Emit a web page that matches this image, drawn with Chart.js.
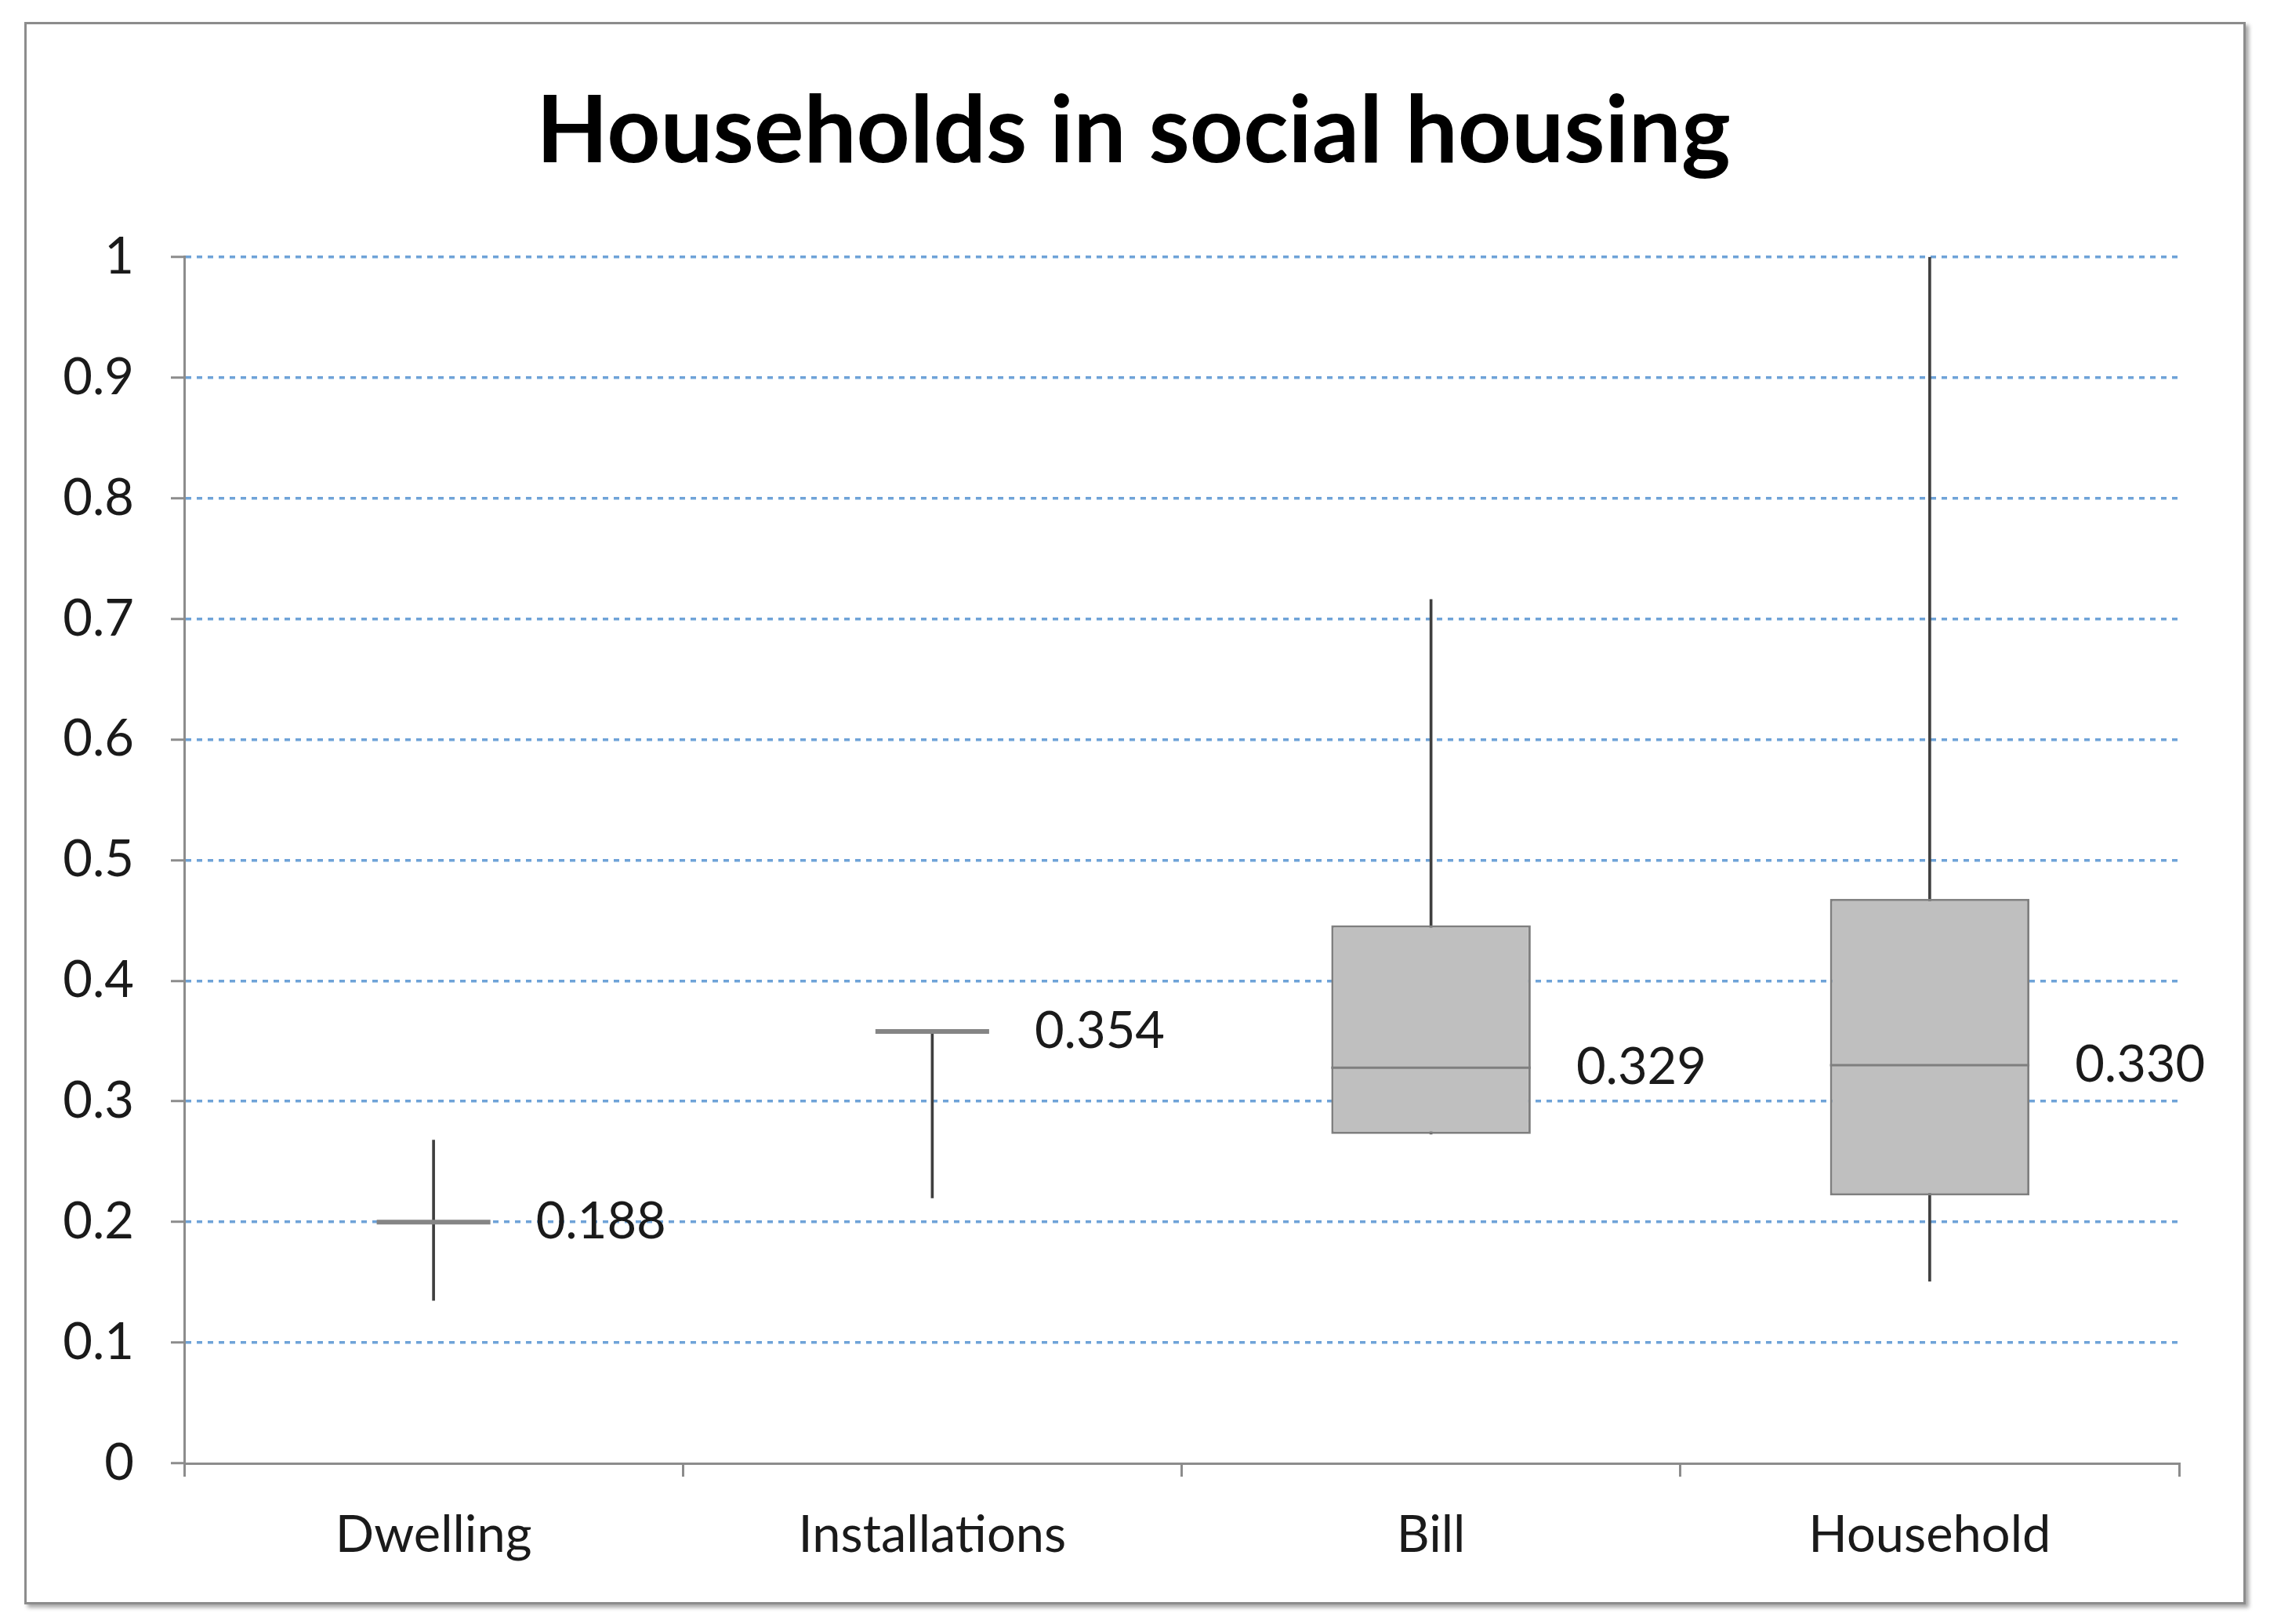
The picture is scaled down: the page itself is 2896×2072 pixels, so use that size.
<!DOCTYPE html>
<html>
<head>
<meta charset="utf-8">
<script src="https://cdn.jsdelivr.net/npm/chart.js@4.4.1/dist/chart.umd.min.js"></script>
<style>
  html, body { margin: 0; padding: 0; background: #fff; }
  #frame {
    position: absolute;
    left: 31px;
    top: 28px;
    width: 2828px;
    height: 2013px;
    border: 3px solid #8c8c8c;
    box-shadow: 4px 4px 5px rgba(0, 0, 0, 0.35);
    background: #fff;
  }
</style>
</head>
<body>
<div id="frame"><canvas id="chart"></canvas></div>
<script>
const categories = ["Dwelling", "Installations", "Bill", "Household"]

// box plot values
const whiskerLow = [0.135, 0.22, 0.273, 0.151]
const q1 = [0.2, 0.358, 0.273, 0.222]
const medians = [0.2, 0.358, 0.328, 0.33]
const q3 = [0.2, 0.358, 0.446, 0.468]
const whiskerHigh = [0.268, 0.358, 0.716, 1.0]
const valueLabels = ["0.188", "0.354", "0.329", "0.330"]

const yTickLabels = ["0", "0.1", "0.2", "0.3", "0.4", "0.5", "0.6", "0.7", "0.8", "0.9", "1"]

const FONT = "Lato"
const GRAY = "#8c8c8c"
const TEXT_SIZE = 65

// median lines + value labels
const medianPlugin = {
  id: "medians",
  afterDatasetsDraw(chart, args, opts) {
    const { ctx } = chart
    const x = chart.scales.x
    const y = chart.scales.y
    const catW = x.width / categories.length
    ctx.save()
    categories.forEach((c, i) => {
      const cx = x.getPixelForValue(i)
      const cy = y.getPixelForValue(medians[i])
      const half = (opts.widths[i] * catW) / 2
      ctx.strokeStyle = opts.colors[i]
      ctx.lineWidth = opts.lineWidths[i]
      ctx.beginPath()
      ctx.moveTo(cx - half, cy)
      ctx.lineTo(cx + half, cy)
      ctx.stroke()

      ctx.fillStyle = "#1a1a1a"
      ctx.font = TEXT_SIZE + "px " + FONT
      ctx.textAlign = "left"
      ctx.textBaseline = "middle"
      ctx.fillText(valueLabels[i], cx + half + 58, cy)
    })
    ctx.restore()
  },
}

const data = {
  labels: categories,
  datasets: [
    {
      label: "box",
      data: categories.map((c, i) => [q1[i], q3[i]]),
      backgroundColor: "#bfbfbf",
      borderColor: "#7f7f7f",
      borderWidth: 3,
      borderSkipped: false,
      barPercentage: 0.4,
      categoryPercentage: 1,
      grouped: false,
    },
    {
      label: "whisker",
      data: categories.map((c, i) => [whiskerLow[i], whiskerHigh[i]]),
      backgroundColor: "#3f3f3f",
      borderWidth: 0,
      barThickness: 3,
      grouped: false,
    },
  ],
}

const config = {
  type: "bar",
  data: data,
  plugins: [medianPlugin],
  options: {
    responsive: true,
    maintainAspectRatio: false,
    animation: false,
    layout: {
      padding: { left: 0, right: 4, top: 0, bottom: 10 },
    },
    plugins: {
      legend: { display: false },
      tooltip: { enabled: false },
      title: {
        display: true,
        text: "Households in social housing",
        color: "#000",
        font: { family: FONT, size: 119, weight: "bold" },
        padding: { top: 66, bottom: 88 },
      },
      medians: {
        widths: [0.228, 0.228, 0.4, 0.4],
        lineWidths: [6, 6, 3, 3],
        colors: ["#858585", "#858585", "#7f7f7f", "#7f7f7f"],
      },
    },
    scales: {
      x: {
        offset: true,
        grid: {
          offset: true,
          drawOnChartArea: false,
          drawTicks: true,
          tickLength: 17,
          color: GRAY,
          tickColor: GRAY,
          lineWidth: 3,
        },
        border: { color: GRAY, width: 3 },
        ticks: {
          color: "#1a1a1a",
          font: { family: FONT, size: TEXT_SIZE },
          padding: 36,
        },
      },
      y: {
        min: 0,
        max: 1,
        afterFit(scale) {
          scale.width = 201
        },
        grid: {
          color: (ctx) => (ctx.tick && ctx.tick.value === 0 ? "rgba(0,0,0,0)" : "#6fa3d8"),
          lineWidth: 3.5,
          tickLength: 17,
          tickColor: GRAY,
          tickWidth: 3,
          tickBorderDash: [],
        },
        border: { color: GRAY, width: 3, dash: [7, 7] },
        ticks: {
          stepSize: 0.1,
          color: "#1a1a1a",
          font: { family: FONT, size: TEXT_SIZE },
          padding: 47,
          callback: (v, i) => yTickLabels[i],
        },
      },
      // empty strip on the right, leaves room for the last value label
      spacer: {
        type: "linear",
        position: "right",
        display: true,
        grid: { display: false, drawTicks: false },
        border: { display: false },
        ticks: { display: false },
        afterFit(scale) {
          scale.width = 78
        },
      },
    },
  },
}

new Chart(document.getElementById("chart"), config)
</script>
</body>
</html>
